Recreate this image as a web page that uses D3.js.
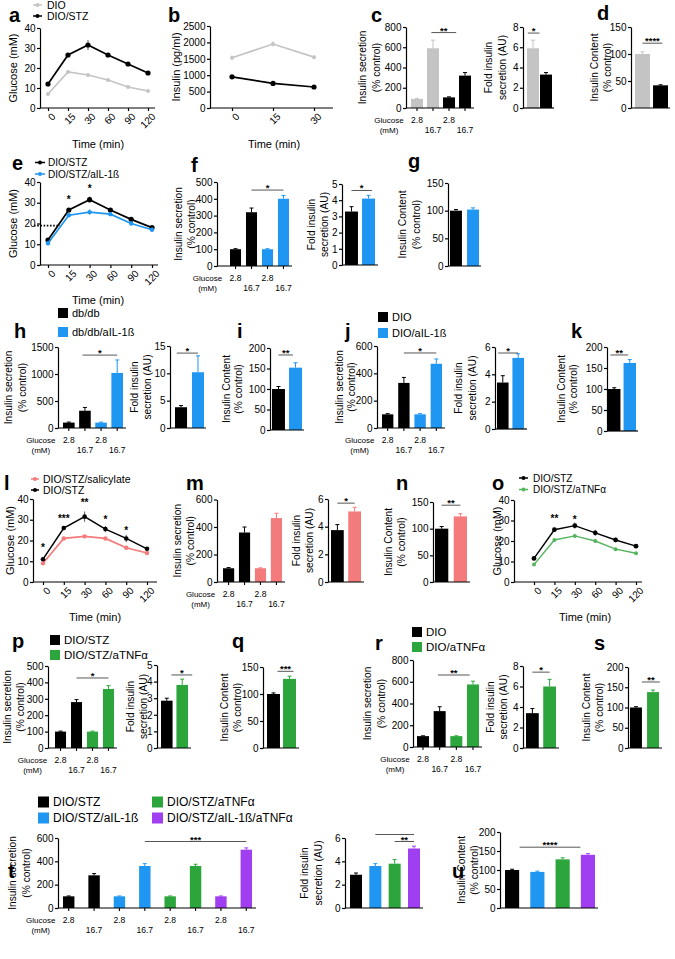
<!DOCTYPE html>
<html>
<head>
<meta charset="utf-8">
<script src="https://cdn.jsdelivr.net/npm/d3@7"></script>
<style>
body { margin: 0; background: #fff; }
svg { display: block; }
</style>
</head>
<body>
<script>
// ---------- data ----------
const ogttTimes = [0, 15, 30, 60, 90, 120];
const insulinTimes = [0, 15, 30];
const glucoseLevels = ["2.8", "16.7"];

// a: OGTT glucose
const aDIO = [7, 18, 16.5, 14, 10.5, 8.5];
const aDIOErr = [0.5, 0.8, 1, 0.8, 0.7, 0.5];
const aSTZ = [12, 26.5, 31.5, 26.5, 22, 17.5];
const aSTZErr = [0.8, 0.8, 2.5, 1, 0.8, 0.6];
// b: insulin
const bDIO = [1530, 1950, 1550];
const bDIOErr = [80, 90, 60];
const bSTZ = [950, 750, 640];
const bSTZErr = [40, 40, 30];
// c / d
const cSecretion = [90, 590, 105, 320];
const cSecretionErr = [5, 80, 5, 30];
const cFold = [5.9, 3.3];
const cFoldErr = [0.8, 0.2];
const dContent = [100, 42];
const dContentErr = [4, 1];
// e
const eSTZ = [12, 26.5, 31.5, 26.5, 22, 18];
const eSTZErr = [0.8, 0.8, 1.5, 0.8, 0.7, 0.6];
const eIL = [10.5, 24, 25.5, 24.5, 20, 17];
const eILErr = [0.6, 0.8, 1.5, 1, 0.8, 0.5];
const eStars = ["", "*", "*", "", "", ""];
const eStarY = [0, 32, 37, 0, 0, 0];
// f / g
const fSecretion = [100, 320, 100, 400];
const fSecretionErr = [3, 25, 3, 20];
const fFold = [3.3, 4.1];
const fFoldErr = [0.3, 0.2];
const gContent = [100, 102];
const gContentErr = [2, 3];
// h / i
const hSecretion = [100, 320, 100, 1020];
const hSecretionErr = [10, 60, 10, 240];
const hFold = [3.8, 10.2];
const hFoldErr = [0.3, 3];
const iContent = [100, 152];
const iContentErr = [6, 12];
// j / k
const jSecretion = [100, 330, 100, 470];
const jSecretionErr = [5, 40, 5, 35];
const jFold = [3.4, 5.2];
const jFoldErr = [0.5, 0.3];
const kContent = [100, 162];
const kContentErr = [3, 8];
// l
const lSTZ = [11, 26, 31.5, 25.5, 21, 16];
const lSTZErr = [0.8, 1, 2.5, 1.5, 1.8, 0.6];
const lSal = [9, 21, 22, 21, 16.5, 14];
const lSalErr = [0.6, 0.8, 0.7, 0.8, 0.8, 0.6];
const lStars = ["*", "***", "**", "*", "*", ""];
const lStarY = [17, 31, 38.5, 30.5, 25, 0];
// m / n
const mSecretion = [100, 360, 100, 465];
const mSecretionErr = [5, 40, 3, 35];
const mFold = [3.75, 5.1];
const mFoldErr = [0.4, 0.3];
const nContent = [100, 123];
const nContentErr = [4, 5];
// o
const oSTZ = [11.5, 25.5, 27.5, 24, 20.5, 17.5];
const oSTZErr = [0.7, 1, 1.5, 1.5, 1.2, 1];
const oTNF = [8.5, 20.5, 22.5, 20, 16, 14];
const oTNFErr = [0.6, 0.8, 0.8, 1, 0.8, 0.6];
const oStars = ["", "**", "*", "", "", ""];
const oStarY = [0, 31, 30.5, 0, 0, 0];
// p / q
const pSecretion = [100, 280, 100, 360];
const pSecretionErr = [3, 15, 3, 20];
const pFold = [2.85, 3.8];
const pFoldErr = [0.15, 0.35];
const qContent = [100, 128];
const qContentErr = [2, 5];
// r / s
const rSecretion = [100, 330, 100, 575];
const rSecretionErr = [3, 40, 3, 30];
const rFold = [3.4, 6.0];
const rFoldErr = [0.45, 0.7];
const sContent = [100, 138];
const sContentErr = [2, 5];
// t / u
const tSecretion = [100, 280, 100, 360, 100, 360, 100, 500];
const tSecretionErr = [3, 15, 3, 20, 3, 15, 3, 15];
const tFold = [2.85, 3.6, 3.8, 5.1];
const tFoldErr = [0.15, 0.2, 0.35, 0.2];
const uContent = [100, 95, 128, 140];
const uContentErr = [2, 2, 4, 3];

// colours
const cGray = "#c4c4c4", cBlack = "#000000", cBlue = "#1e96f2", cPink = "#f47b7b",
      cGreen = "#2ca53c", cGreenLine = "#55b45e", cPurple = "#a03ff2";

const secTitle = ["Insulin secretion", "(% control)"];
const foldTitle = ["Fold insulin", "secretion (AU)"];
const contTitle = ["Insulin Content", "(% control)"];

// ---------- helpers ----------
const FONT = '"Liberation Sans", Arial, Helvetica, sans-serif';
const svg = d3.select("body").append("svg")
    .attr("width", 675).attr("height", 959)
    .attr("font-family", FONT);

function txt(x, y, s, size, anchor = "start", weight = "normal", fill = "#000") {
    return svg.append("text").attr("x", x).attr("y", y)
        .attr("font-size", size).attr("text-anchor", anchor)
        .attr("font-weight", weight).attr("fill", fill).text(s);
}

function vtxt(x, y, s, size) {
    return svg.append("text")
        .attr("transform", `translate(${x},${y}) rotate(-90)`)
        .attr("text-anchor", "middle").attr("dominant-baseline", "central")
        .attr("font-size", size).text(s);
}

function label(s, x, y) { txt(x, y, s, 20, "start", "bold"); }

function yAxis(g, y, ax, ticks) {
    const a = g.append("g").attr("transform", `translate(${ax},0)`)
        .call(d3.axisLeft(y).tickValues(ticks).tickFormat(d3.format("d"))
            .tickSize(3).tickPadding(1.5).tickSizeOuter(0));
    a.attr("font-family", FONT).attr("font-size", 10);
    a.select(".domain").attr("stroke-width", 1.2);
    a.selectAll(".tick line").attr("stroke-width", 1.2);
    a.selectAll(".tick text").attr("fill", "#000");
}

// line chart (OGTT / insulin time course)
function lineChart(o) {
    const x = d3.scalePoint().domain(o.times).range(o.pts);
    const y = d3.scaleLinear().domain([0, o.max]).range([o.y0, o.y1]);
    const g = svg.append("g");
    yAxis(g, y, o.ax, o.ticks);

    const xa = g.append("g").attr("transform", `translate(0,${o.y0})`)
        .call(d3.axisBottom(x).tickSize(3).tickSizeOuter(0));
    xa.attr("font-family", FONT).attr("font-size", 10);
    xa.select(".domain").remove();
    xa.append("line").attr("x1", o.ax).attr("x2", o.xEnd)
        .attr("stroke", "#000").attr("stroke-width", 1.2);
    xa.selectAll(".tick line").attr("stroke-width", 1.2);
    xa.selectAll(".tick text").attr("x", -1).attr("y", 5).attr("dy", "0.7em")
        .attr("transform", "rotate(-45)").attr("text-anchor", "end").attr("fill", "#000");

    if (o.dotted) {
        g.append("line").attr("x1", o.dotted.x1).attr("x2", o.dotted.x2)
            .attr("y1", y(o.dotted.v)).attr("y2", y(o.dotted.v))
            .attr("stroke", "#000").attr("stroke-width", 1.6).attr("stroke-dasharray", "1.6,1.6");
    }

    const line = d3.line().x((d, i) => x(o.times[i])).y(d => y(d));
    o.series.forEach(s => {
        const sg = g.append("g");
        sg.selectAll("line.err").data(s.vals).join("line")
            .attr("x1", (d, i) => x(o.times[i])).attr("x2", (d, i) => x(o.times[i]))
            .attr("y1", (d, i) => y(d - s.errs[i])).attr("y2", (d, i) => y(d + s.errs[i]))
            .attr("stroke", s.color).attr("stroke-width", 0.9).attr("opacity", 0.7);
        sg.append("path").attr("d", line(s.vals)).attr("fill", "none")
            .attr("stroke", s.color).attr("stroke-width", s.width || 1.7);
        sg.selectAll("circle").data(s.vals).join("circle")
            .attr("cx", (d, i) => x(o.times[i])).attr("cy", d => y(d))
            .attr("r", s.r || 2.6).attr("fill", s.color);
    });

    if (o.stars) {
        o.stars.forEach((s, i) => {
            if (!s) return;
            txt(x(o.times[i]), y(o.starY[i]) + 4, s, 10, "middle", "bold");
        });
    }

    if (o.legend) {
        o.legend.rows.forEach((r, k) => {
            const yy = o.legend.ys[k];
            svg.append("line").attr("x1", o.legend.x).attr("x2", o.legend.x + o.legend.w)
                .attr("y1", yy).attr("y2", yy).attr("stroke", r.color).attr("stroke-width", 1.5);
            svg.append("circle").attr("cx", o.legend.x + o.legend.w / 2).attr("cy", yy)
                .attr("r", 2).attr("fill", r.color);
            txt(o.legend.tx, yy, r.label, o.legend.font || 10.5).attr("dominant-baseline", "central");
        });
    }

    vtxt(o.titleX, (o.y0 + o.y1) / 2, o.title, 11);
    txt(o.xTitleX, o.xTitleY, "Time (min)", 11, "middle");
}

// bar chart
function barChart(o) {
    const y = d3.scaleLinear().domain([0, o.max]).range([o.y0, o.y1]);
    const x = d3.scaleBand().domain(d3.range(o.vals.length))
        .range(o.band).paddingInner(o.pad).paddingOuter(0);
    const bw = x.bandwidth();
    const cx = i => x(0) + i * x.step() + bw / 2;
    const g = svg.append("g");

    const eb = g.selectAll("g.eb").data(o.vals).join("g")
        .attr("stroke", (d, i) => o.cols[i]).attr("stroke-width", 1);
    eb.append("line")
        .attr("x1", (d, i) => cx(i)).attr("x2", (d, i) => cx(i))
        .attr("y1", d => y(d)).attr("y2", (d, i) => y(d + o.errs[i]));
    eb.append("line")
        .attr("x1", (d, i) => cx(i) - 2).attr("x2", (d, i) => cx(i) + 2)
        .attr("y1", (d, i) => y(d + o.errs[i])).attr("y2", (d, i) => y(d + o.errs[i]));

    g.selectAll("rect").data(o.vals).join("rect")
        .attr("x", (d, i) => x(i)).attr("y", d => y(d))
        .attr("width", bw).attr("height", d => y(0) - y(d))
        .attr("fill", (d, i) => o.cols[i]);

    yAxis(g, y, o.ax, o.ticks);
    g.append("line").attr("x1", o.ax).attr("x2", o.xEnd)
        .attr("y1", o.y0).attr("y2", o.y0).attr("stroke", "#000").attr("stroke-width", 1.2);

    if (o.xticks) {
        g.selectAll("line.xt").data(o.vals).join("line")
            .attr("x1", (d, i) => cx(i)).attr("x2", (d, i) => cx(i))
            .attr("y1", o.y0).attr("y2", o.y0 + 3)
            .attr("stroke", "#000").attr("stroke-width", 1.1);
    }

    (o.sig || []).forEach(s => {
        g.append("line").attr("x1", cx(s.a)).attr("x2", cx(s.b))
            .attr("y1", y(s.v)).attr("y2", y(s.v))
            .attr("stroke", "#444").attr("stroke-width", 0.9);
        if (s.t) txt((cx(s.a) + cx(s.b)) / 2, y(s.v) + 1, s.t, 9.5, "middle", "bold");
    });

    if (o.glucose) {
        const gx = cx(0) - 28;
        txt(gx, o.y0 + 15, "Glucose", 8, "middle");
        txt(gx, o.y0 + 25, "(mM)", 8, "middle");
        o.vals.forEach((d, i) => {
            const lv = glucoseLevels[i % 2];
            txt(cx(i), o.y0 + (i % 2 ? 25 : 15), lv, 8.5, "middle");
        });
    }

    const yc = (o.y0 + o.y1) / 2;
    o.title.forEach((t, k) => vtxt(o.titleX[k], yc, t, 10.2));
}

function squareLegend(rows, size) {
    rows.forEach(r => {
        svg.append("rect").attr("x", r.x).attr("y", r.y - size / 2)
            .attr("width", size).attr("height", size).attr("fill", r.color);
        txt(r.x + size + 4, r.y, r.label, r.font || 11).attr("dominant-baseline", "central");
    });
}

// ---------- row 1: a b c d ----------
label("a", 9, 22);
lineChart({
    times: ogttTimes, pts: [48, 148], ax: 40, xEnd: 155, y0: 108, y1: 28, max: 40,
    ticks: [0, 10, 20, 30, 40],
    series: [
        { vals: aDIO, errs: aDIOErr, color: cGray, r: 2 },
        { vals: aSTZ, errs: aSTZErr, color: cBlack }
    ],
    legend: { x: 33, w: 9, tx: 47, ys: [5, 16],
        rows: [{ color: cGray, label: "DIO" }, { color: cBlack, label: "DIO/STZ" }] },
    title: "Glucose (mM)", titleX: 13, xTitleX: 98, xTitleY: 148
});

label("b", 168, 22);
lineChart({
    times: insulinTimes, pts: [232, 314], ax: 210, xEnd: 333, y0: 108, y1: 26, max: 2500,
    ticks: [0, 500, 1000, 1500, 2000, 2500],
    series: [
        { vals: bDIO, errs: bDIOErr, color: cGray, r: 2 },
        { vals: bSTZ, errs: bSTZErr, color: cBlack }
    ],
    title: "Insulin (pg/ml)", titleX: 176, xTitleX: 274, xTitleY: 148
});

label("c", 371, 22);
barChart({
    vals: cSecretion, errs: cSecretionErr, cols: [cGray, cGray, cBlack, cBlack],
    ax: 406, xEnd: 474, y0: 108, y1: 27, max: 800, ticks: [0, 200, 400, 600, 800],
    band: [411, 471], pad: 0.25, xticks: true, glucose: true,
    sig: [{ a: 0.9, b: 2.45, v: 745, t: "**" }],
    title: secTitle, titleX: [362, 376]
});
barChart({
    vals: cFold, errs: cFoldErr, cols: [cGray, cBlack],
    ax: 523, xEnd: 554, y0: 108, y1: 27, max: 8, ticks: [0, 2, 4, 6, 8],
    band: [527, 552], pad: 0.08,
    sig: [{ a: -0.4, b: 0.5, v: 7.4, t: "*" }],
    title: foldTitle, titleX: [488, 502]
});
label("d", 597, 20);
barChart({
    vals: dContent, errs: dContentErr, cols: [cGray, cBlack],
    ax: 631, xEnd: 670, y0: 108, y1: 27, max: 150, ticks: [0, 50, 100, 150],
    band: [635, 668], pad: 0.17,
    sig: [{ a: 0, b: 1.1, v: 120, t: "****" }],
    title: contTitle, titleX: [594, 607]
});

// ---------- row 2: e f g ----------
label("e", 12, 170);
lineChart({
    times: ogttTimes, pts: [48, 152], ax: 40, xEnd: 158, y0: 265, y1: 182, max: 40,
    ticks: [0, 10, 20, 30, 40],
    series: [
        { vals: eSTZ, errs: eSTZErr, color: cBlack },
        { vals: eIL, errs: eILErr, color: cBlue, r: 2.2 }
    ],
    stars: eStars, starY: eStarY,
    dotted: { v: 19, x1: 34, x2: 60 },
    legend: { x: 35, w: 10, tx: 48, ys: [162.5, 174], font: 10,
        rows: [{ color: cBlack, label: "DIO/STZ" }, { color: cBlue, label: "DIO/STZ/aIL-1ß" }] },
    title: "Glucose (mM)", titleX: 13, xTitleX: 98, xTitleY: 304
});

label("f", 191, 172);
barChart({
    vals: fSecretion, errs: fSecretionErr, cols: [cBlack, cBlack, cBlue, cBlue],
    ax: 217, xEnd: 292, y0: 266, y1: 182, max: 500, ticks: [0, 100, 200, 300, 400, 500],
    band: [230, 289], pad: 0.31, xticks: true, glucose: true,
    sig: [{ a: 1, b: 3, v: 452, t: "*" }],
    title: secTitle, titleX: [178, 191]
});
barChart({
    vals: fFold, errs: fFoldErr, cols: [cBlack, cBlue],
    ax: 342, xEnd: 378, y0: 265, y1: 184, max: 5, ticks: [0, 1, 2, 3, 4, 5],
    band: [345, 375], pad: 0.24,
    sig: [{ a: 0, b: 1.2, v: 4.6, t: "*" }],
    title: foldTitle, titleX: [311, 324]
});
label("g", 408, 168);
barChart({
    vals: gContent, errs: gContentErr, cols: [cBlack, cBlue],
    ax: 448, xEnd: 481, y0: 266, y1: 183, max: 150, ticks: [0, 50, 100, 150],
    band: [450, 479], pad: 0.3,
    title: contTitle, titleX: [402, 416]
});

// ---------- row 3: h i j k ----------
label("h", 14, 338);
squareLegend([
    { x: 58, y: 313, color: cBlack, label: "db/db" },
    { x: 58, y: 332, color: cBlue, label: "db/db/aIL-1ß" }
], 10);
barChart({
    vals: hSecretion, errs: hSecretionErr, cols: [cBlack, cBlack, cBlue, cBlue],
    ax: 58, xEnd: 126, y0: 428, y1: 347, max: 1500, ticks: [0, 500, 1000, 1500],
    band: [63, 123], pad: 0.28, xticks: true, glucose: true,
    sig: [{ a: 0.85, b: 3, v: 1350, t: "*" }],
    title: secTitle, titleX: [8, 22]
});
barChart({
    vals: hFold, errs: hFoldErr, cols: [cBlack, cBlue],
    ax: 170, xEnd: 206, y0: 428, y1: 346, max: 15, ticks: [0, 5, 10, 15],
    band: [175, 204], pad: 0.29,
    sig: [{ a: -0.25, b: 1, v: 13.7, t: "*" }],
    title: foldTitle, titleX: [134, 147]
});
label("i", 237, 338);
barChart({
    vals: iContent, errs: iContentErr, cols: [cBlack, cBlue],
    ax: 270, xEnd: 304, y0: 430, y1: 348, max: 200, ticks: [0, 50, 100, 150, 200],
    band: [272, 302], pad: 0.24,
    sig: [{ a: 0, b: 0.85, v: 183, t: "**" }],
    title: contTitle, titleX: [226, 238]
});

label("j", 345, 338);
squareLegend([
    { x: 378, y: 317, color: cBlack, label: "DIO" },
    { x: 378, y: 333, color: cBlue, label: "DIO/aIL-1ß" }
], 10);
barChart({
    vals: jSecretion, errs: jSecretionErr, cols: [cBlack, cBlack, cBlue, cBlue],
    ax: 377, xEnd: 445, y0: 428, y1: 346, max: 600, ticks: [0, 200, 400, 600],
    band: [382, 442], pad: 0.3, xticks: true, glucose: true,
    sig: [{ a: 1, b: 3, v: 549, t: "*" }],
    title: secTitle, titleX: [339, 351]
});
barChart({
    vals: jFold, errs: jFoldErr, cols: [cBlack, cBlue],
    ax: 495, xEnd: 527, y0: 429, y1: 347, max: 6, ticks: [0, 2, 4, 6],
    band: [497, 524], pad: 0.25,
    sig: [{ a: -0.3, b: 1, v: 5.56, t: "*" }],
    title: foldTitle, titleX: [458, 472]
});
label("k", 571, 338);
barChart({
    vals: kContent, errs: kContentErr, cols: [cBlack, cBlue],
    ax: 607, xEnd: 638, y0: 431, y1: 347, max: 200, ticks: [0, 50, 100, 150, 200],
    band: [608, 636], pad: 0.2,
    sig: [{ a: -0.25, b: 0.9, v: 181, t: "**" }],
    title: contTitle, titleX: [561, 573]
});

// ---------- row 4: l m n o ----------
label("l", 4, 490);
lineChart({
    times: ogttTimes, pts: [43, 147], ax: 33, xEnd: 157, y0: 582, y1: 499, max: 40,
    ticks: [0, 10, 20, 30, 40],
    series: [
        { vals: lSal, errs: lSalErr, color: cPink, r: 2.2 },
        { vals: lSTZ, errs: lSTZErr, color: cBlack, width: 1.5, r: 2.3 }
    ],
    stars: lStars, starY: lStarY,
    legend: { x: 31, w: 8, tx: 43, ys: [479, 490],
        rows: [{ color: cPink, label: "DIO/STZ/salicylate" }, { color: cBlack, label: "DIO/STZ" }] },
    title: "Glucose (mM)", titleX: 10, xTitleX: 95, xTitleY: 621
});

label("m", 186, 490);
barChart({
    vals: mSecretion, errs: mSecretionErr, cols: [cBlack, cBlack, cPink, cPink],
    ax: 217, xEnd: 285, y0: 582, y1: 499.5, max: 600, ticks: [0, 200, 400, 600],
    band: [223, 282], pad: 0.3, xticks: true, glucose: true,
    title: secTitle, titleX: [177, 190]
});
barChart({
    vals: mFold, errs: mFoldErr, cols: [cBlack, cPink],
    ax: 328, xEnd: 364, y0: 582, y1: 499, max: 6, ticks: [0, 2, 4, 6],
    band: [331, 361], pad: 0.26,
    sig: [{ a: 0, b: 1, v: 5.7, t: "*" }],
    title: foldTitle, titleX: [296, 309]
});
label("n", 396, 490);
barChart({
    vals: nContent, errs: nContentErr, cols: [cBlack, cPink],
    ax: 433, xEnd: 470, y0: 582, y1: 502, max: 150, ticks: [0, 50, 100, 150],
    band: [435, 467], pad: 0.29,
    sig: [{ a: 0, b: 1, v: 144, t: "**" }],
    title: contTitle, titleX: [388, 401]
});

label("o", 492, 490);
lineChart({
    times: ogttTimes, pts: [534, 636], ax: 514, xEnd: 642, y0: 582, y1: 500, max: 40,
    ticks: [0, 10, 20, 30, 40],
    series: [
        { vals: oSTZ, errs: oSTZErr, color: cBlack, width: 1.4, r: 2.4 },
        { vals: oTNF, errs: oTNFErr, color: cGreenLine, width: 1.4, r: 2 }
    ],
    stars: oStars, starY: oStarY,
    legend: { x: 519, w: 9, tx: 533, ys: [478, 489.5], font: 10,
        rows: [{ color: cBlack, label: "DIO/STZ" }, { color: cGreenLine, label: "DIO/STZ/aTNFα" }] },
    title: "Glucose (mM)", titleX: 497, xTitleX: 585, xTitleY: 621
});

// ---------- row 5: p q r s ----------
label("p", 12, 648);
squareLegend([
    { x: 50, y: 640, color: cBlack, label: "DIO/STZ", font: 11.5 },
    { x: 50, y: 655, color: cGreen, label: "DIO/STZ/aTNFα", font: 11.5 }
], 10);
barChart({
    vals: pSecretion, errs: pSecretionErr, cols: [cBlack, cBlack, cGreen, cGreen],
    ax: 48, xEnd: 117, y0: 748, y1: 666, max: 500, ticks: [0, 100, 200, 300, 400, 500],
    band: [55, 114], pad: 0.31, xticks: true, glucose: true,
    sig: [{ a: 1, b: 3, v: 427, t: "*" }],
    title: secTitle, titleX: [7, 20]
});
barChart({
    vals: pFold, errs: pFoldErr, cols: [cBlack, cGreen],
    ax: 157, xEnd: 191, y0: 748, y1: 665, max: 5, ticks: [0, 1, 2, 3, 4, 5],
    band: [161, 188], pad: 0.25,
    sig: [{ a: 0.3, b: 1.65, v: 4.4, t: "*" }],
    title: foldTitle, titleX: [130, 143]
});
label("q", 232, 648);
barChart({
    vals: qContent, errs: qContentErr, cols: [cBlack, cGreen],
    ax: 263, xEnd: 299, y0: 748, y1: 667, max: 150, ticks: [0, 50, 100, 150],
    band: [267, 296], pad: 0.19,
    sig: [{ a: 0.25, b: 1.25, v: 142, t: "***" }],
    title: contTitle, titleX: [224, 237]
});

label("r", 375, 650);
squareLegend([
    { x: 412, y: 632, color: cBlack, label: "DIO", font: 11.5 },
    { x: 412, y: 647, color: cGreen, label: "DIO/aTNFα", font: 11.5 }
], 10);
barChart({
    vals: rSecretion, errs: rSecretionErr, cols: [cBlack, cBlack, cGreen, cGreen],
    ax: 413, xEnd: 482, y0: 747, y1: 660, max: 800, ticks: [0, 200, 400, 600, 800],
    band: [417, 479], pad: 0.28, xticks: true, glucose: true,
    sig: [{ a: 0.9, b: 2.8, v: 662, t: "**" }],
    title: secTitle, titleX: [367, 381]
});
barChart({
    vals: rFold, errs: rFoldErr, cols: [cBlack, cGreen],
    ax: 523, xEnd: 559, y0: 748, y1: 666, max: 8, ticks: [0, 2, 4, 6, 8],
    band: [526, 556], pad: 0.26,
    sig: [{ a: 0, b: 1, v: 7.4, t: "*" }],
    title: foldTitle, titleX: [490, 503]
});
label("s", 594, 650);
barChart({
    vals: sContent, errs: sContentErr, cols: [cBlack, cGreen],
    ax: 628, xEnd: 662, y0: 748, y1: 667, max: 200, ticks: [0, 50, 100, 150, 200],
    band: [630, 659], pad: 0.3,
    sig: [{ a: 0.35, b: 1.4, v: 163, t: "**" }],
    title: contTitle, titleX: [586, 599]
});

// ---------- row 6: t u ----------
squareLegend([
    { x: 38, y: 802, color: cBlack, label: "DIO/STZ", font: 12 },
    { x: 38, y: 818, color: cBlue, label: "DIO/STZ/aIL-1ß", font: 12 },
    { x: 152, y: 802, color: cGreen, label: "DIO/STZ/aTNFα", font: 12 },
    { x: 152, y: 818, color: cPurple, label: "DIO/STZ/aIL-1ß/aTNFα", font: 12 }
], 11);
label("t", 8, 878);
barChart({
    vals: tSecretion, errs: tSecretionErr,
    cols: [cBlack, cBlack, cBlue, cBlue, cGreen, cGreen, cPurple, cPurple],
    ax: 58, xEnd: 256, y0: 908, y1: 838, max: 600, ticks: [0, 200, 400, 600],
    band: [63, 252], pad: 0.55, xticks: true, glucose: true,
    sig: [{ a: 3, b: 7, v: 570, t: "***" }],
    title: secTitle, titleX: [12, 26]
});
barChart({
    vals: tFold, errs: tFoldErr, cols: [cBlack, cBlue, cGreen, cPurple],
    ax: 345, xEnd: 423, y0: 908, y1: 838, max: 6, ticks: [0, 2, 4, 6],
    band: [350, 420], pad: 0.38,
    sig: [{ a: 1, b: 3, v: 6.3, t: "" }, { a: 2, b: 3, v: 5.7, t: "**" }],
    title: foldTitle, titleX: [304, 318]
});
label("u", 452, 878);
barChart({
    vals: uContent, errs: uContentErr, cols: [cBlack, cBlue, cGreen, cPurple],
    ax: 500, xEnd: 598, y0: 908, y1: 832, max: 200, ticks: [0, 50, 100, 150, 200],
    band: [505, 595], pad: 0.44,
    sig: [{ a: 0.3, b: 2.7, v: 160, t: "****" }],
    title: contTitle, titleX: [461, 474]
});
</script>
</body>
</html>
